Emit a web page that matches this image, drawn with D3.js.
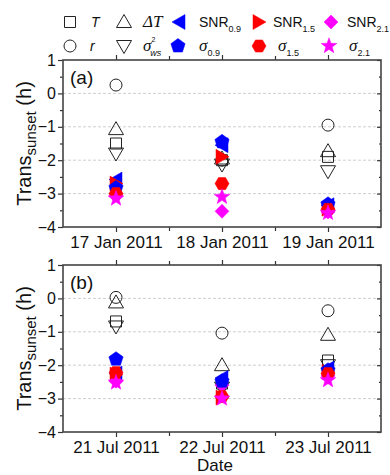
<!DOCTYPE html>
<html><head><meta charset="utf-8">
<script src="https://cdn.jsdelivr.net/npm/d3@7"></script>
<style>body{margin:0;background:#fff}svg{display:block}</style>
</head><body>
<svg id="c" width="390" height="475"></svg>
<script>
// ---- data ----
const datesA = ["17 Jan 2011", "18 Jan 2011", "19 Jan 2011"];
const datesB = ["21 Jul 2011", "22 Jul 2011", "23 Jul 2011"];
const yTicks = [-4, -3, -2, -1, 0, 1];

// panel (a)
const T_a      = [-1.5, -2.0, -1.9];
const r_a      = [0.25, -2.0, -0.95];
const dT_a     = [-1.07, -1.95, -1.73];
const sws_a    = [-1.8, -2.13, -2.33];
const snr09_a  = [-2.58, -1.55, -3.35];
const sig09_a  = [-2.83, -1.45, -3.32];
const snr15_a  = [-2.7, -1.9, -3.45];
const sig15_a  = [-3.0, -2.7, -3.47];
const snr21_a  = [-3.05, -3.53, -3.55];
const sig21_a  = [-3.15, -3.1, -3.58];

// panel (b)
const T_b      = [-0.69, -2.55, -1.86];
const r_b      = [0.03, -1.04, -0.37];
const dT_b     = [-0.12, -2.0, -1.09];
const sws_b    = [-0.84, -2.67, -2.0];
const snr09_b  = [-2.25, -2.38, -2.1];
const sig09_b  = [-1.82, -2.48, -2.15];
const snr15_b  = [-2.28, -2.97, -2.2];
const sig15_b  = [-2.22, -2.94, -2.25];
const snr21_b  = [-2.48, -2.6, -2.32];
const sig21_b  = [-2.52, -3.0, -2.45];

// ---- shapes ----
function poly(pts){ return "M" + pts.map(p => p[0].toFixed(2)+","+p[1].toFixed(2)).join("L") + "Z"; }
function regular(n, r, rot){ const a=[]; for(let i=0;i<n;i++){const t=rot+i*2*Math.PI/n; a.push([r*Math.cos(t), r*Math.sin(t)]);} return poly(a); }
const shapes = {
  square: () => poly([[-5.5,-5.5],[5.5,-5.5],[5.5,5.5],[-5.5,5.5]]),
  circle: () => d3.arc()({innerRadius:0, outerRadius:6, startAngle:0, endAngle:2*Math.PI}),
  triUp: () => poly([[0,-7.5],[7.5,5.5],[-7.5,5.5]]),
  triDown: () => poly([[0,7.5],[7.5,-5.5],[-7.5,-5.5]]),
  triLeft: () => poly([[-7,0],[6,-7.5],[6,7.5]]),
  triRight: () => poly([[7,0],[-6,-7.5],[-6,7.5]]),
  diamond: () => poly([[0,-7],[7,0],[0,7],[-7,0]]),
  pentagon: () => regular(5, 7.5, -Math.PI/2),
  hexagon: () => regular(6, 7, 0),
  star: () => { const a=[]; for(let i=0;i<10;i++){const rr = i%2?3.4:8.2; const t=-Math.PI/2+i*Math.PI/5; a.push([rr*Math.cos(t), rr*Math.sin(t)]);} return poly(a); }
};

const series = [
  {key:"T",     shape:"square",  open:true,  color:"#222"},
  {key:"r",     shape:"circle",  open:true,  color:"#222"},
  {key:"dT",    shape:"triUp",   open:true,  color:"#222"},
  {key:"sws",   shape:"triDown", open:true,  color:"#222"},
  {key:"snr09", shape:"triLeft", open:false, color:"#0000ff"},
  {key:"snr15", shape:"triRight",open:false, color:"#ff0000"},
  {key:"snr21", shape:"diamond", open:false, color:"#ff00ff"},
  {key:"sig09", shape:"pentagon",open:false, color:"#0000ff"},
  {key:"sig15", shape:"hexagon", open:false, color:"#ff0000"},
  {key:"sig21", shape:"star",    open:false, color:"#ff00ff"}
];
const valuesA = {T:T_a, r:r_a, dT:dT_a, sws:sws_a, snr09:snr09_a, snr15:snr15_a, snr21:snr21_a, sig09:sig09_a, sig15:sig15_a, sig21:sig21_a};
const valuesB = {T:T_b, r:r_b, dT:dT_b, sws:sws_b, snr09:snr09_b, snr15:snr15_b, snr21:snr21_b, sig09:sig09_b, sig15:sig15_b, sig21:sig21_b};

const svg = d3.select("#c");
const FONT = "'Liberation Sans', Arial, sans-serif";
const SERIF = "'Liberation Serif', 'Times New Roman', serif";
const X0 = 63, X1 = 381;

function panel(top, dates, vals, label){
  const bottom = top + 167;
  const x = d3.scaleBand().domain(dates).range([X0, X1]);
  const cx = d => x(d) + x.bandwidth()/2;
  const y = d3.scaleLinear().domain([-4, 1]).range([bottom, top]);
  const g = svg.append("g");

  // grid
  g.selectAll("line.grid").data([-3,-2,-1,0]).join("line")
    .attr("x1", X0).attr("x2", X1).attr("y1", d=>y(d)).attr("y2", d=>y(d))
    .attr("stroke", "#cfcfcf").attr("stroke-width", 1).attr("stroke-dasharray", "3,2");

  // left axis
  const la = g.append("g").attr("transform", `translate(${X0},0)`)
    .call(d3.axisLeft(y).tickValues(yTicks).tickSize(5).tickPadding(2).tickFormat(d3.format("d")));
  la.selectAll("text").attr("font-family", FONT).attr("font-size", 16).attr("fill", "#111");
  g.append("g").attr("transform", `translate(${X0},0)`)
    .call(d3.axisLeft(y).tickValues([-3.5,-2.5,-1.5,-0.5,0.5]).tickSize(3).tickFormat(""));
  // right axis (inward ticks)
  g.append("g").attr("transform", `translate(${X1},0)`)
    .call(d3.axisLeft(y).tickValues(yTicks).tickSize(4).tickFormat(""));
  g.append("g").attr("transform", `translate(${X1},0)`)
    .call(d3.axisLeft(y).tickValues([-3.5,-2.5,-1.5,-0.5,0.5]).tickSize(2).tickFormat(""));

  // bottom axis
  const xp = d3.scalePoint().domain(dates).range([cx(dates[0]), cx(dates[2])]);
  const ba = g.append("g").attr("transform", `translate(0,${bottom})`)
    .call(d3.axisBottom(xp).tickSize(5).tickPadding(4));
  ba.selectAll("text").attr("font-family", FONT).attr("font-size", 17).attr("fill", "#111");
  const bounds = d3.scaleLinear().domain([0,3]).range([X0, X1]);
  g.append("g").attr("transform", `translate(0,${bottom})`)
    .call(d3.axisBottom(bounds).tickValues([1,2]).tickSize(4).tickFormat(""));
  // top axis
  g.append("g").attr("transform", `translate(0,${top})`)
    .call(d3.axisTop(xp).tickSize(5).tickFormat(""));
  g.append("g").attr("transform", `translate(0,${top})`)
    .call(d3.axisTop(bounds).tickValues([1,2]).tickSize(4).tickFormat(""));

  g.selectAll(".domain").remove();
  g.selectAll(".tick line").attr("stroke", "#333").attr("stroke-width", 1.2);
  // frame
  g.append("rect").attr("x", X0).attr("y", top).attr("width", X1-X0).attr("height", bottom-top)
    .attr("fill", "none").attr("stroke", "#444").attr("stroke-width", 1.6);

  // markers
  series.forEach(s => {
    const v = vals[s.key];
    g.append("g").selectAll("path").data(dates.map((d,i)=>({d, v:v[i]}))).join("path")
      .attr("transform", p => `translate(${cx(p.d)},${y(p.v)})`)
      .attr("d", shapes[s.shape]())
      .attr("fill", s.open ? "none" : s.color)
      .attr("stroke", s.color)
      .attr("stroke-width", s.open ? 1 : 0.5);
  });

  g.append("text").attr("x", 70).attr("y", top + 24).text(label)
    .attr("font-family", FONT).attr("font-size", 19).attr("fill", "#111");

  // y label
  const yl = g.append("text")
    .attr("transform", `translate(31,${(top+bottom)/2}) rotate(-90)`)
    .attr("text-anchor", "middle").attr("font-family", FONT).attr("font-size", 20).attr("fill", "#111");
  yl.append("tspan").text("Trans");
  yl.append("tspan").attr("dy", 5).attr("font-size", 15).text("sunset");
  yl.append("tspan").attr("dy", -5).text(" (h)");
}

panel(60, datesA, valuesA, "(a)");
panel(265, datesB, valuesB, "(b)");

svg.append("text").attr("x", 215).attr("y", 471).attr("text-anchor", "middle")
  .attr("font-family", FONT).attr("font-size", 17).attr("fill", "#111").text("Date");

// ---- legend ----
const legendItems = [
  {s:0, x:70,  y:22, tx:91,  parts:[["T","it"]]},
  {s:2, x:124, y:22, tx:143, parts:[["ΔT","serifit"]]},
  {s:4, x:179, y:22, tx:199, parts:[["SNR",""],["0.9","sub"]]},
  {s:5, x:259, y:22, tx:273, parts:[["SNR",""],["1.5","sub"]]},
  {s:6, x:331, y:22, tx:347, parts:[["SNR",""],["2.1","sub"]]},
  {s:1, x:70,  y:46, tx:90,  parts:[["r","it"]]},
  {s:3, x:124, y:46, tx:143, parts:[["σ","serifit"],["2","sup"],["ws","subit"]]},
  {s:7, x:178, y:46, tx:199, parts:[["σ","serifit"],["0.9","sub"]]},
  {s:8, x:259, y:46, tx:278, parts:[["σ","serifit"],["1.5","sub"]]},
  {s:9, x:329, y:46, tx:349, parts:[["σ","serifit"],["2.1","sub"]]}
];
const lg = svg.append("g");
legendItems.forEach(it => {
  const s = series[it.s];
  lg.append("path").attr("transform", `translate(${it.x},${it.y})`).attr("d", shapes[s.shape]())
    .attr("fill", s.open ? "none" : s.color).attr("stroke", s.color).attr("stroke-width", s.open ? 1 : 0.5);
  const t = lg.append("text").attr("x", it.tx).attr("y", it.y + 5)
    .attr("font-family", FONT).attr("font-size", 14).attr("fill", "#111");
  let shift = 0;
  it.parts.forEach(([txt, st]) => {
    const ts = t.append("tspan").text(txt);
    let target = 0;
    if (st === "it") ts.attr("font-style", "italic");
    if (st === "serifit") ts.attr("font-family", SERIF).attr("font-style", "italic").attr("font-size", 17);
    if (st === "sub") { ts.attr("font-size", 9); target = 5; }
    if (st === "subit") { ts.attr("font-size", 9).attr("font-style", "italic"); target = 5; ts.attr("dx", -5); }
    if (st === "sup") { ts.attr("font-size", 7); target = -9; }
    ts.attr("dy", target - shift); shift = target;
  });
});
</script>
</body></html>
